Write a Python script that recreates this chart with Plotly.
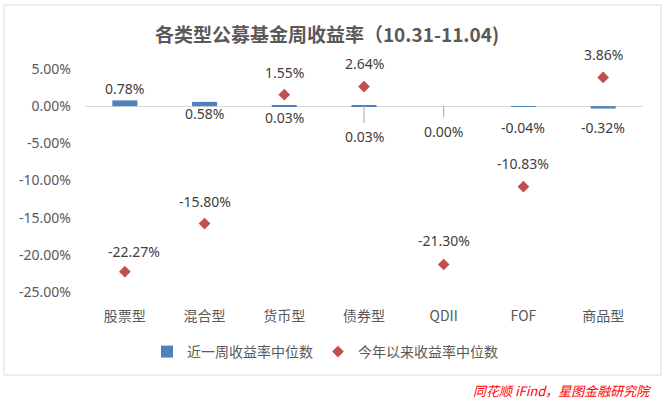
import plotly.graph_objects as go

categories = ["股票型", "混合型", "货币型", "债券型", "QDII", "FOF", "商品型"]
week_median = [0.78, 0.58, 0.03, 0.03, 0.00, -0.04, -0.32]
ytd_median = [-22.27, -15.80, 1.55, 2.64, -21.30, -10.83, 3.86]
y_ticks = [5, 0, -5, -10, -15, -20, -25]
series_names = ["近一周收益率中位数", "今年以来收益率中位数"]
title_text = "各类型公募基金周收益率（10.31-11.04)"
source_text = "同花顺 iFind，星图金融研究院"

# label offsets (pixels) for data labels
bar_label_shift = [12, -12, -12, None, None, -21, -19]
bar_label_arrow = [None, None, None, 31, 25, None, None]
dot_label_shift = [20, 22, 22.5, 23, 24.5, 23.5, 23]
dot_label_xshift = [9, 0, 0, 0, 0, 0, 0]

FONT = "Noto Sans, Noto Sans CJK SC, sans-serif"
CJK = "Noto Sans CJK SC, sans-serif"
W, H = 665, 399
ML, MR, MT, MB = 85, 22, 69, 107
YMIN, YMAX = -25, 5
plot_h = H - MT - MB
plot_w = W - ML - MR

fig = go.Figure()
fig.add_trace(go.Bar(
    x=categories, y=week_median, name=series_names[0],
    marker=dict(color="#4F81BD", line=dict(width=0)),
))
fig.add_trace(go.Scatter(
    x=categories, y=ytd_median, name=series_names[1], mode="markers",
    marker=dict(symbol="diamond", size=9, color="#C0504D"),
    cliponaxis=False,
))

annotations = []
lab_font = dict(family=FONT, size=14, color="#404040")
for i, c in enumerate(categories):
    v = week_median[i]
    txt = f"{v:.2f}%"
    if bar_label_arrow[i] is not None:
        annotations.append(dict(
            x=c, y=v, xref="x", yref="y", text=txt, showarrow=True,
            arrowhead=0, arrowwidth=1, arrowcolor="#A6A6A6",
            ax=0, ay=bar_label_arrow[i], startstandoff=3,
            font=lab_font,
        ))
    else:
        annotations.append(dict(
            x=c, y=v, xref="x", yref="y", text=txt, showarrow=False,
            yshift=bar_label_shift[i], font=lab_font,
        ))
    d = ytd_median[i]
    annotations.append(dict(
        x=c, y=d, xref="x", yref="y", text=f"{d:.2f}%", showarrow=False,
        yshift=dot_label_shift[i], xshift=dot_label_xshift[i], font=lab_font,
    ))

# source watermark
annotations.append(dict(
    x=(653 - ML) / plot_w, y=(H - MB - 390) / plot_h, xref="paper", yref="paper",
    xanchor="right", yanchor="middle", showarrow=False,
    text="<i>" + source_text + "</i>",
    font=dict(family=CJK, size=13, color="#FF0000"),
))

zero_pos = (0 - YMIN) / (YMAX - YMIN)

fig.update_layout(
    width=W, height=H,
    margin=dict(l=ML, r=MR, t=MT, b=MB, pad=0),
    paper_bgcolor="white", plot_bgcolor="white",
    font=dict(family=FONT, size=14, color="#595959"),
    title=dict(text="<b>" + title_text + "</b>", x=327 / W, xanchor="center",
               y=1 - 35 / H, yanchor="middle",
               font=dict(family=CJK, size=19, color="#595959")),
    bargap=0.686,
    showlegend=True,
    legend=dict(orientation="h", x=(325 - ML) / plot_w, xanchor="center",
                y=(H - MB - 352) / plot_h, yanchor="middle",
                font=dict(family=CJK, size=14, color="#595959"),
                itemwidth=30, tracegroupgap=0, bgcolor="rgba(0,0,0,0)"),
    xaxis=dict(type="category", categoryarray=categories, showline=False, showgrid=False,
               zeroline=False, ticks="", ticklabelstandoff=14,
               tickfont=dict(family=CJK, size=14, color="#595959")),
    xaxis2=dict(overlaying="x", anchor="free", position=zero_pos, range=[-0.5, 6.5],
                showline=True, linecolor="#D9D9D9", linewidth=1, showgrid=False,
                zeroline=False, ticks="", showticklabels=False, layer="below traces"),
    yaxis=dict(range=[YMIN, YMAX], tickvals=y_ticks, ticktext=[f"{t:.2f}%" for t in y_ticks],
               showgrid=False, zeroline=False, showline=False, ticks="",
               ticklabelstandoff=13,
               tickfont=dict(family=FONT, size=14, color="#595959")),
    annotations=annotations,
    shapes=[dict(type="rect", xref="paper", yref="paper",
                 x0=(4 - ML) / plot_w, x1=(661 - ML) / plot_w,
                 y0=(H - MB - 375) / plot_h, y1=(H - MB - 5) / plot_h,
                 line=dict(color="#D9D9D9", width=1), fillcolor="rgba(0,0,0,0)",
                 layer="below")],
)
# invisible trace to activate xaxis2 (the zero line)
fig.add_trace(go.Scatter(x=[-0.5, 6.5], y=[0, 0], xaxis="x2", mode="lines",
                         line=dict(width=0), showlegend=False, hoverinfo="skip"))

fig.write_html("out.html", config={"displayModeBar": False},
               post_script="document.body.style.margin='0';document.body.style.overflow='hidden';")
